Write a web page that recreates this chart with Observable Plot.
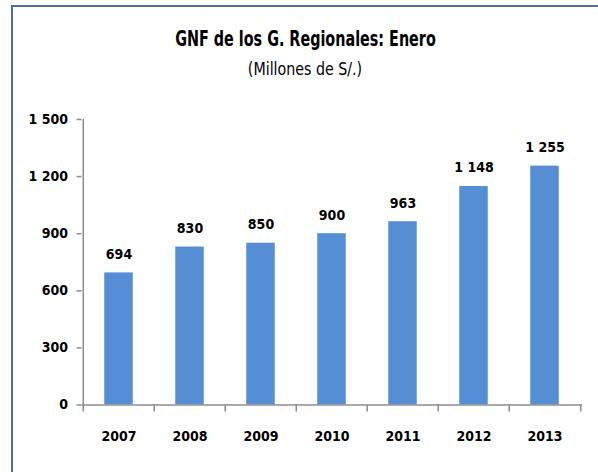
<!DOCTYPE html>
<html><head><meta charset="utf-8">
<script src="https://cdn.jsdelivr.net/npm/d3@7"></script>
<script src="https://cdn.jsdelivr.net/npm/@observablehq/plot@0.6"></script>
<style>
body{margin:0;background:#fff;}
#wrap{position:relative;width:598px;height:472px;overflow:hidden;font-family:"DejaVu Sans Condensed","Liberation Sans Narrow",Roboto,sans-serif;color:#000;}
#frame{position:absolute;left:11px;top:5px;width:700px;height:600px;border-top:2px solid #4f6fa7;border-left:2px solid #4f6fa7;}
#title{position:absolute;left:0;width:611px;top:27px;text-align:center;font-weight:bold;font-size:21px;line-height:24px;white-space:nowrap;transform:scaleX(0.76);transform-origin:305.5px 0;}
#subtitle{position:absolute;left:0;width:610px;top:57px;text-align:center;font-size:17px;line-height:24px;white-space:nowrap;transform:scaleX(0.93);transform-origin:305px 0;}
#chart{position:absolute;left:0;top:95px;}
</style></head>
<body>
<div id="wrap">
  <div id="frame"></div>
  <div id="title">GNF de los G.  Regionales: Enero</div>
  <div id="subtitle">(Millones de S/.)</div>
  <div id="chart"></div>
</div>
<script>
const years = ["2007","2008","2009","2010","2011","2012","2013"];
const values = [694, 830, 850, 900, 963, 1148, 1255];
const yTicks = [0, 300, 600, 900, 1200, 1500];

const data = years.map((year, i) => ({year, value: values[i]}));
const fmt = v => String(v).replace(/\B(?=(\d{3})+(?!\d))/g, " ");

const W = 598, H = 377, mL = 81.5, mR = 16, mT = 24, mB = 67.5;
const half = (W - mL - mR) / years.length / 2;
const axisGray = "#8c8c8c";
const font = '"DejaVu Sans Condensed","Liberation Sans Narrow",Roboto,sans-serif';

const chart = Plot.plot({
  width: W, height: H,
  marginLeft: mL, marginRight: mR, marginTop: mT, marginBottom: mB,
  x: {domain: years, padding: 0, axis: null},
  y: {domain: [0, 1500], axis: null},
  style: {fontFamily: font, fontSize: "14px", fontWeight: "bold", color: "#000", background: "transparent", overflow: "visible"},
  marks: [
    Plot.barY(data, {x: "year", y: "value", fill: "#558ed5", insetLeft: 21.25, insetRight: 21.25}),
    Plot.text(data, {x: "year", y: "value", text: d => fmt(d.value), lineAnchor: "bottom", dy: -14, fill: "#000"}),
    Plot.ruleY([0], {stroke: axisGray, strokeWidth: 1.5}),
    Plot.ruleX([years[0]], {x: d => d, y1: 0, y2: 1500, dx: -half, stroke: axisGray, strokeWidth: 1.5}),
    Plot.axisY(yTicks, {label: null, tickSize: 5, tickPadding: 9, tickFormat: fmt, stroke: axisGray, strokeWidth: 1.5, fill: "#000"}),
    Plot.axisX(years, {label: null, tickSize: 0, tickPadding: 26, fill: "#000"}),
    Plot.axisX(years, {label: null, tickSize: 7, tickFormat: () => "", dx: -half, stroke: axisGray, strokeWidth: 1.5}),
    Plot.axisX([years[years.length - 1]], {label: null, tickSize: 7, tickFormat: () => "", dx: half, stroke: axisGray, strokeWidth: 1.5})
  ]
});
document.getElementById("chart").appendChild(chart);
</script>
</body></html>
